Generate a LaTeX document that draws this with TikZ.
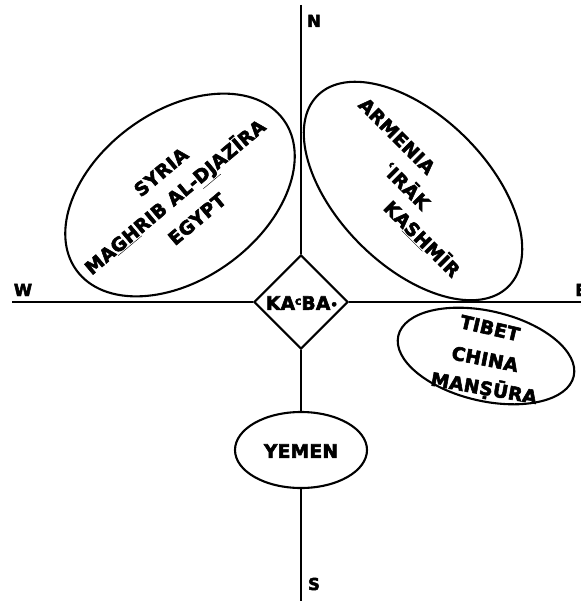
\documentclass[tikz,border=0pt]{standalone}
\usepackage{fontspec}
\newfontfamily\labfont{DejaVu Sans Bold}[LetterSpace=2, FakeBold=3]
\usetikzlibrary{shapes.geometric}
\tikzset{
  ln/.style={line width=2.4pt},
  oval/.style={draw, line width=2.1pt, ellipse, inner sep=0pt, fill=white},
  lab/.style={font=\fontsize{18.5}{20}\labfont, inner sep=0pt, text height=13.5pt, text depth=0pt},
  dir/.style={font=\fontsize{16.5}{18}\labfont, inner sep=0pt, text height=12pt, text depth=0pt}
}
\begin{document}
\begin{tikzpicture}[x=1pt,y=1pt]
\useasboundingbox (0,0) rectangle (580,-601);
% axis end points
\coordinate (n) at (301,-5);
\coordinate (s) at (301,-601);
\coordinate (w) at (12,-302);
\coordinate (e) at (585,-302);
% ellipses
\node[oval, minimum width=256pt, minimum height=168pt, rotate=36] (west) at (180,-195) {};
\node[oval, minimum width=270pt, minimum height=150pt, rotate=-45] (north) at (413,-191) {};
\node[oval, minimum width=180pt, minimum height=90pt, rotate=-13] (east) at (486,-356) {};
\node[oval, minimum width=132pt, minimum height=76pt] (yemen) at (301,-450) {};
% kaaba diamond
\node[draw, line width=2.1pt, diamond, minimum width=94pt, minimum height=94pt, inner sep=0pt, fill=white] (kaaba) at (301,-302) {};
% axes
\draw[ln] (n) -- (kaaba.north);
\draw[ln] (kaaba.south) -- (yemen.north);
\draw[ln] (yemen.south) -- (s);
\draw[ln] (w) -- (kaaba.west);
\draw[ln] (kaaba.east) -- (e);
% texts
\node[lab] (kt) at (302,-303) {KA\raisebox{5pt}{\fontsize{11}{11}\labfont c}BA\raisebox{1pt}{\fontsize{12}{12}\labfont•}};
\node[lab] (yt) at (301,-451) {YEMEN};
\node[lab, rotate=40] (t1) at (161,-172) {SYRIA};
\node[lab, rotate=40] (t2) at (175,-197) {MA\underline{GH}RIB AL-\underline{DJ}AZĪRA};
\node[lab, rotate=40] (t3) at (197,-219) {EGYPT};
\node[lab, rotate=-45] (t4) at (397,-136) {ARMENIA};
\node[lab, rotate=-45] (t5) at (406,-186) {ʿIRĀK};
\node[lab, rotate=-45] (t6) at (422,-239) {KA\underline{SH}MĪR};
\node[lab, rotate=-13] (t7) at (490,-328) {TIBET};
\node[lab, rotate=-11] (t8) at (485,-359) {CHINA};
\node[lab, rotate=-10] (t9) at (484,-388) {MANṢŪRA};
% direction letters
\node[dir] (nl) at (314,-21) {N};
\node[dir] (sl) at (314,-584) {S};
\node[dir] (wl) at (23,-290) {W};
\node[dir] (el) at (581,-290) {E};
\end{tikzpicture}
\end{document}
